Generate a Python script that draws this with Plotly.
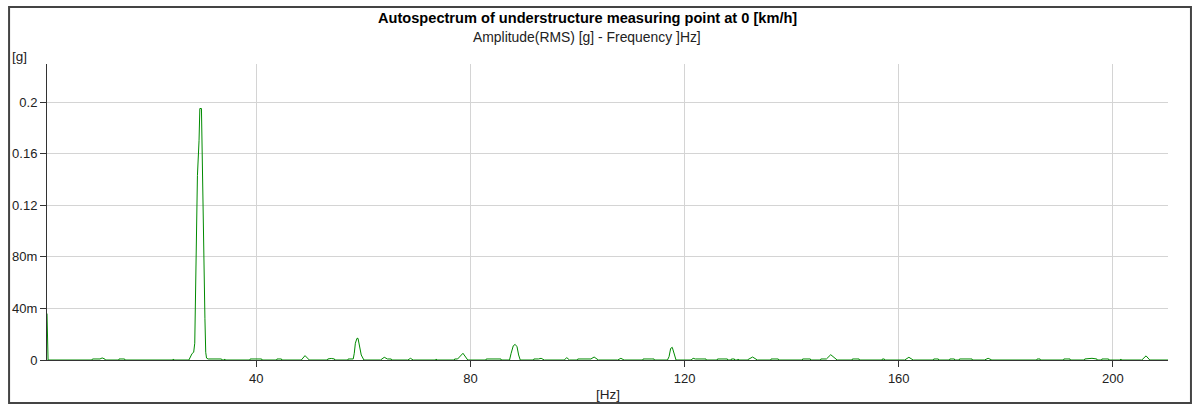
import plotly.graph_objects as go

# ---- data ----
freq_hz = [0.9, 1.1,
           9.3, 9.4, 10.8, 11.2, 11.7, 11.8,
           14.3, 14.35, 15.4, 15.45,
           24.4, 24.5, 24.6,
           27.4, 28.0, 28.3, 28.5, 28.7, 28.85, 29.0, 29.3, 29.45, 29.75, 29.9, 30.05, 30.2, 30.4, 30.55, 30.7, 31.0,
           33.5, 33.6, 34.0, 34.1, 34.2,
           38.8, 38.85, 41.0, 41.05,
           43.8, 43.85, 44.7, 44.75,
           48.4, 49.1, 49.9,
           53.3, 53.35, 54.0, 54.6, 54.65,
           57.1, 57.15, 58.1, 58.3, 58.5, 58.8, 59.0, 59.3, 59.6, 60.1,
           63.2, 63.9, 64.5, 65.2, 65.25,
           68.3, 68.8, 69.3,
           73.5, 73.6, 73.7,
           77.0, 77.05, 77.6, 78.6, 79.5,
           82.9, 82.95, 85.7, 85.75,
           87.3, 87.6, 88.0, 88.35, 88.7, 89.0, 89.3,
           91.8, 91.85, 92.7, 93.2, 93.8,
           97.5, 98.0, 98.5,
           100.0, 100.05, 102.5, 103.1, 103.9,
           107.5, 108.1, 108.7,
           112.2, 112.25, 113.9, 114.2, 114.3, 114.35,
           116.8, 117.1, 117.4, 117.7, 118.0, 118.4,
           121.2, 121.6, 122.0, 124.0, 124.05,
           126.1, 126.15, 128.0, 128.05,
           128.7, 128.75, 129.3, 129.35,
           129.9, 130.0, 130.1,
           131.7, 132.7, 133.6,
           136.1, 136.15, 137.5, 137.55,
           142.0, 142.05, 143.5, 143.55,
           145.4, 145.45, 146.5, 147.3, 148.5,
           151.3, 151.35, 152.6, 152.65,
           156.9, 156.95, 157.3, 157.35,
           161.1, 161.9, 162.7,
           166.5, 166.55, 167.4, 167.45,
           169.5, 169.55, 170.4, 170.45,
           171.3, 171.35, 173.7, 173.75,
           176.0, 176.7, 177.4,
           185.8, 185.85, 186.4, 186.45,
           190.8, 190.85, 192.0, 192.05,
           194.7, 194.75, 196.1, 197.0, 197.05,
           197.9, 197.95, 199.2, 199.25,
           201.4, 201.5, 201.6,
           205.4, 206.2, 206.9,
           210.3]

amp_g = [0.036, 0.0,
         0.0, 0.0008, 0.0008, 0.0016, 0.0008, 0.0,
         0.0, 0.0008, 0.0008, 0.0,
         0.0, 0.0008, 0.0,
         0.0, 0.005, 0.006, 0.013, 0.062, 0.11, 0.143, 0.17, 0.195, 0.195, 0.149, 0.0995, 0.061, 0.032, 0.006, 0.0015, 0.0008,
         0.0008, 0.0, 0.0, 0.0008, 0.0,
         0.0, 0.0008, 0.0008, 0.0,
         0.0, 0.0008, 0.0008, 0.0,
         0.0, 0.0034, 0.0,
         0.0, 0.0008, 0.0012, 0.0008, 0.0,
         0.0, 0.0008, 0.0008, 0.0052, 0.013, 0.0168, 0.0168, 0.0098, 0.0039, 0.0,
         0.0, 0.0021, 0.0008, 0.0008, 0.0,
         0.0, 0.0013, 0.0,
         0.0, 0.0008, 0.0,
         0.0, 0.0008, 0.0008, 0.0052, 0.0,
         0.0, 0.0008, 0.0008, 0.0,
         0.0, 0.0052, 0.011, 0.0121, 0.0103, 0.0039, 0.0,
         0.0, 0.0008, 0.0008, 0.0013, 0.0,
         0.0, 0.0018, 0.0,
         0.0, 0.0008, 0.0008, 0.0023, 0.0,
         0.0, 0.0013, 0.0,
         0.0, 0.0008, 0.0008, 0.0011, 0.0008, 0.0,
         0.0, 0.0026, 0.009, 0.0098, 0.0052, 0.0,
         0.0, 0.0013, 0.0008, 0.0008, 0.0,
         0.0, 0.0008, 0.0008, 0.0,
         0.0, 0.0008, 0.0008, 0.0,
         0.0, 0.0008, 0.0,
         0.0, 0.0023, 0.0,
         0.0, 0.0008, 0.0008, 0.0,
         0.0, 0.0008, 0.0008, 0.0,
         0.0, 0.0008, 0.0008, 0.0041, 0.0,
         0.0, 0.0008, 0.0008, 0.0,
         0.0, 0.0008, 0.0008, 0.0,
         0.0, 0.0021, 0.0,
         0.0, 0.0008, 0.0008, 0.0,
         0.0, 0.0008, 0.0008, 0.0,
         0.0, 0.0008, 0.0008, 0.0,
         0.0, 0.0013, 0.0,
         0.0, 0.0008, 0.0008, 0.0,
         0.0, 0.0008, 0.0008, 0.0,
         0.0, 0.0008, 0.0013, 0.0008, 0.0,
         0.0, 0.0008, 0.0008, 0.0,
         0.0, 0.0008, 0.0,
         0.0, 0.0032, 0.0,
         0.0]

y_tick_values = [0, 0.04, 0.08, 0.12, 0.16, 0.2]
y_tick_labels = ["0", "40m", "80m", "0.12", "0.16", "0.2"]
x_tick_values = [40, 80, 120, 160, 200]
x_tick_labels = ["40", "80", "120", "160", "200"]

title_text = "Autospectrum of understructure measuring point at 0 [km/h]"
subtitle_text = "Amplitude(RMS) [g] - Frequency ]Hz]"

# ---- layout geometry (pixels) ----
W, H = 1198, 406
L, R, T, B = 45, 30, 64, 46
pw, ph = W - L - R, H - T - B


def px_x(px):
    return (px - L) / pw


def px_y(py):
    return (H - B - py) / ph


FONT = "Liberation Sans, Arial, sans-serif"

fig = go.Figure()
fig.add_trace(go.Scatter(x=freq_hz, y=amp_g, mode="lines",
                         line=dict(color="#008a00", width=1),
                         hoverinfo="skip", showlegend=False))

fig.update_layout(
    width=W, height=H,
    margin=dict(l=L, r=R, t=T, b=B),
    paper_bgcolor="white", plot_bgcolor="white",
    font=dict(family=FONT, size=13, color="#222"),
    showlegend=False,
)
fig.update_xaxes(range=[0.9, 210.3], tickmode="array",
                 tickvals=x_tick_values, ticktext=x_tick_labels,
                 showgrid=True, gridcolor="#d4d4d4", gridwidth=1,
                 showline=True, linecolor="#333", linewidth=1,
                 ticks="outside", ticklen=6, tickcolor="#333",
                 zeroline=False, tickfont=dict(size=13, color="#222"))
fig.update_yaxes(range=[0, 0.2295], tickmode="array",
                 tickvals=y_tick_values, ticktext=y_tick_labels,
                 showgrid=True, gridcolor="#d4d4d4", gridwidth=1,
                 showline=True, linecolor="#333", linewidth=1,
                 ticks="outside", ticklen=6, tickcolor="#333",
                 zeroline=False, tickfont=dict(size=13, color="#222"))

# titles and axis unit labels
fig.add_annotation(text="<b>" + title_text + "</b>", xref="paper", yref="paper",
                   x=px_x(586), y=px_y(18), showarrow=False,
                   font=dict(family=FONT, size=14.6, color="#000"),
                   xanchor="center", yanchor="middle")
fig.add_annotation(text=subtitle_text, xref="paper", yref="paper",
                   x=px_x(586), y=px_y(37), showarrow=False,
                   font=dict(family=FONT, size=13.9, color="#222"),
                   xanchor="center", yanchor="middle")
fig.add_annotation(text="[g]", xref="paper", yref="paper",
                   x=px_x(8), y=px_y(56), showarrow=False,
                   font=dict(family=FONT, size=13.5, color="#222"),
                   xanchor="left", yanchor="middle")
fig.add_annotation(text="[Hz]", xref="paper", yref="paper",
                   x=px_x(607), y=px_y(394), showarrow=False,
                   font=dict(family=FONT, size=13.5, color="#222"),
                   xanchor="center", yanchor="middle")

# outer frame
fig.add_shape(type="rect", xref="paper", yref="paper",
              x0=px_x(7), x1=px_x(1191), y0=px_y(403), y1=px_y(7),
              line=dict(color="#444", width=2), fillcolor="rgba(0,0,0,0)",
              layer="below")

fig.write_html("out.html", config={"displayModeBar": False},
               post_script="document.body.style.margin='0';document.body.style.overflow='hidden';")
